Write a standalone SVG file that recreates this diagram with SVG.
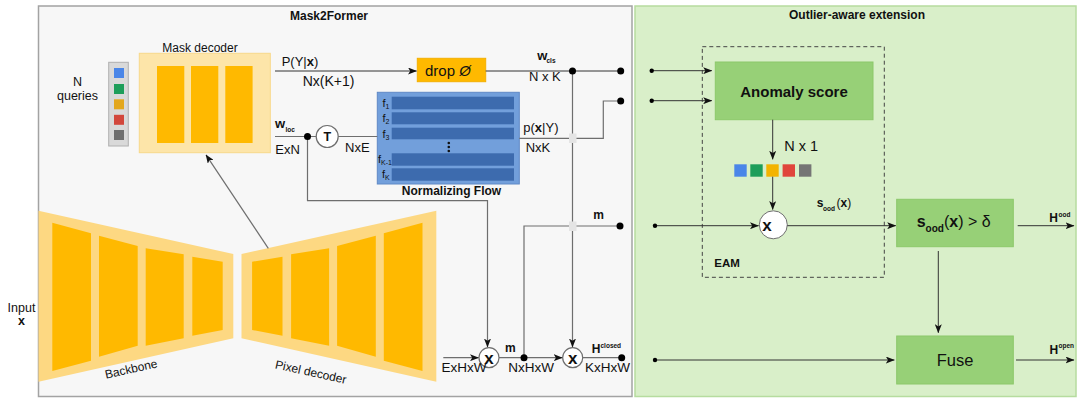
<svg xmlns="http://www.w3.org/2000/svg" width="1078" height="399" viewBox="0 0 1078 399">
<defs>
<marker id="arr" markerWidth="9" markerHeight="7" refX="8.5" refY="3.5" orient="auto" markerUnits="userSpaceOnUse">
<path d="M0,0 L9,3.5 L0,7 L2.2,3.5 z" fill="#111"/>
</marker>
<style>
text{font-family:"Liberation Sans",Arial,sans-serif;fill:#111}
.b{font-weight:bold}
.t13{font-size:13px}
.ln{fill:none;stroke:#6e6e6e;stroke-width:1.2}
.lnd{fill:none;stroke:#333;stroke-width:1}
.dot{fill:#000}
.bar{fill:#ffb900}
.outer{fill:#fdd882}
.nfbar{fill:#3d6bae}
.gbox{fill:#97d077;stroke:#8cc86a;stroke-width:1}
.sub{font-size:6.5px;font-weight:bold}
.mul{font-weight:bold;font-size:17px}
</style>
</defs>

<g id="panel-mask2former">
<rect x="38.5" y="6" width="593.5" height="390.5" fill="#f7f7f7" stroke="#a3a3a3" stroke-width="1.5"/>
<text x="290" y="20" class="b" font-size="12">Mask2Former</text>
</g>
<g id="panel-outlier">
<rect x="635" y="6" width="441" height="390.5" fill="#d9efc9" stroke="#b6dc9f" stroke-width="1.5"/>
<text x="857" y="19" class="b" font-size="12" text-anchor="middle">Outlier-aware extension</text>
</g>

<g id="input">
<text x="21.5" y="312" font-size="12.5" text-anchor="middle">Input</text>
<text x="21.5" y="325" font-size="12.5" class="b" text-anchor="middle">x</text>
</g>

<g id="queries">
<text x="77.5" y="86" font-size="12.5" text-anchor="middle">N</text>
<text x="77.5" y="100" font-size="12.5" text-anchor="middle">queries</text>
<rect x="108.7" y="62.3" width="19.6" height="83.7" fill="#d9d9d9" stroke="#b0b0b0" stroke-width="1"/>
<rect x="114" y="68" width="10" height="10" fill="#4a86e8"/>
<rect x="114" y="84" width="10" height="10" fill="#1e9e5a"/>
<rect x="114" y="99.3" width="10" height="10" fill="#e3a71c"/>
<rect x="114" y="114.8" width="10" height="10" fill="#d2473c"/>
<rect x="114" y="130" width="10" height="10" fill="#6f6f6f"/>
</g>

<g id="mask-decoder">
<text x="200" y="52" font-size="12" text-anchor="middle">Mask decoder</text>
<rect x="139.3" y="53.3" width="131" height="99.4" fill="#fde5a9" stroke="#f8d98a" stroke-width="1"/>
<rect class="bar" x="157" y="66" width="27.3" height="77"/>
<rect class="bar" x="191" y="66" width="27.3" height="77"/>
<rect class="bar" x="225.3" y="66" width="27.3" height="77"/>
</g>

<g id="backbone">
<polygon class="outer" points="38.5,210.7 233.3,254 233.3,338.3 38.5,381.7"/>
<polygon class="bar" points="52.3,222.7 91,233.3 91,360.7 52.3,371"/>
<polygon class="bar" points="99,235.7 137.7,246 137.7,345.7 99,356.7"/>
<polygon class="bar" points="145.7,248.3 183.7,254.3 183.7,338.3 145.7,345.7"/>
<polygon class="bar" points="192.3,256.7 222.7,261.7 222.7,330 192.3,335.7"/>
<text font-size="12" text-anchor="middle" transform="translate(132,373) rotate(-12.5)">Backbone</text>
</g>

<g id="pixel-decoder">
<g transform="matrix(-1 0 0 1 474.8 0)">
<polygon class="outer" points="38.5,210.7 233.3,254 233.3,338.3 38.5,381.7"/>
<polygon class="bar" points="52.3,222.7 91,233.3 91,360.7 52.3,371"/>
<polygon class="bar" points="99,235.7 137.7,246 137.7,345.7 99,356.7"/>
<polygon class="bar" points="145.7,248.3 183.7,254.3 183.7,338.3 145.7,345.7"/>
<polygon class="bar" points="192.3,256.7 222.7,261.7 222.7,330 192.3,335.7"/>
</g>
<text font-size="12" text-anchor="middle" transform="translate(310,376) rotate(12.5)">Pixel decoder</text>
</g>

<g id="drop">
<rect x="417.3" y="58.3" width="68.4" height="23.4" fill="#ffb900" stroke="#f4b000" stroke-width="1"/>
<text x="425" y="76" font-size="15">drop <tspan font-style="italic">Ø</tspan></text>
</g>

<g id="normalizing-flow">
<rect x="377.3" y="92.3" width="142" height="91.7" fill="#729fdb" stroke="#5f89c6" stroke-width="1"/>
<rect class="nfbar" x="391.7" y="96.7" width="122.3" height="12.6"/>
<rect class="nfbar" x="391.7" y="112.3" width="122.3" height="12"/>
<rect class="nfbar" x="391.7" y="127.7" width="122.3" height="11.6"/>
<rect class="nfbar" x="391.7" y="153.3" width="122.3" height="12.4"/>
<rect class="nfbar" x="391.7" y="168.3" width="122.3" height="12.4"/>
<text x="382.5" y="107" font-size="11">f<tspan font-size="7" dy="2">1</tspan></text>
<text x="382.5" y="122" font-size="11">f<tspan font-size="7" dy="2">2</tspan></text>
<text x="382.5" y="137.5" font-size="11">f<tspan font-size="7" dy="2">3</tspan></text>
<text x="378" y="163" font-size="11">f<tspan font-size="7" dy="2">K-1</tspan></text>
<text x="382" y="178" font-size="11">f<tspan font-size="7" dy="2">K</tspan></text>
<circle cx="448.8" cy="143" r="1.3" fill="#111"/>
<circle cx="448.8" cy="147" r="1.3" fill="#111"/>
<circle cx="448.8" cy="151" r="1.3" fill="#111"/>
<text x="451.5" y="195" class="b" font-size="12" text-anchor="middle">Normalizing Flow</text>
</g>

<g id="transpose">
<circle cx="327.2" cy="136.5" r="11" fill="#fff" stroke="#6e6e6e" stroke-width="1.2"/>
<text x="327.2" y="141" class="b" font-size="12.5" text-anchor="middle">T</text>
</g>

<g id="mul1">
<circle cx="489" cy="357.7" r="10" fill="#fff" stroke="#6e6e6e" stroke-width="1.2"/>
<text x="489" y="363.5" class="mul" text-anchor="middle">x</text>
</g>
<g id="mul2">
<circle cx="572.7" cy="357.7" r="10" fill="#fff" stroke="#6e6e6e" stroke-width="1.2"/>
<text x="572.7" y="363.5" class="mul" text-anchor="middle">x</text>
</g>

<g id="eam">
<rect x="702.3" y="46.7" width="182" height="230.6" fill="none" stroke="#444" stroke-width="1" stroke-dasharray="4,3"/>
<text x="714.3" y="266.7" class="b" font-size="11.5">EAM</text>
</g>

<g id="anomaly-score">
<rect class="gbox" x="715.3" y="62" width="157.7" height="57.7"/>
<text x="794" y="97" class="b" font-size="15" text-anchor="middle">Anomaly score</text>
</g>

<g id="scores">
<rect x="734.3" y="164.3" width="12.4" height="12.4" fill="#4a86e8"/>
<rect x="750.3" y="164.3" width="12.4" height="12.4" fill="#1e9e5a"/>
<rect x="766.3" y="164.3" width="12.4" height="12.4" fill="#f3b400"/>
<rect x="782.6" y="164.3" width="12.4" height="12.4" fill="#e0453b"/>
<rect x="799" y="164.3" width="12.4" height="12.4" fill="#757575"/>
</g>

<g id="mul3">
<circle cx="773.3" cy="224.8" r="14" fill="#fff" stroke="#6e6e6e" stroke-width="1"/>
<text x="767" y="230.5" class="mul" text-anchor="middle">x</text>
</g>

<g id="threshold">
<rect class="gbox" x="896.7" y="199.3" width="116.6" height="47.4"/>
<text x="916.7" y="226.5" font-size="16"><tspan class="b">s</tspan><tspan font-size="10" class="b" dy="5">ood</tspan><tspan dy="-5">(</tspan><tspan class="b">x</tspan>) &gt; δ</text>
</g>

<g id="fuse">
<rect class="gbox" x="896.7" y="336" width="116.6" height="48"/>
<text x="955" y="366" font-size="16.5" text-anchor="middle">Fuse</text>
</g>

<g id="connectors">
<path d="M268.3,248.3 L206,154.8" class="ln" marker-end="url(#arr)"/>
<path d="M275,71 H416.5" class="lnd" marker-end="url(#arr)"/>
<path d="M485.7,71 H620.7" class="lnd"/>
<path d="M275,136.5 H316.2" class="ln"/>
<path d="M338.2,136.5 H377.3" class="ln"/>
<path d="M307.5,136.5 V200.7 H487.5 V347" class="ln" marker-end="url(#arr)"/>
<path d="M519.3,138.3 H603.3 V101 H620.7" class="ln"/>
<path d="M572.5,71 V347" class="ln" marker-end="url(#arr)"/>
<rect x="569" y="133.5" width="7.5" height="9.5" fill="#e4e4e4"/>
<path d="M443.3,357.7 H478.5" class="ln" marker-end="url(#arr)"/>
<path d="M499,357.7 H562.2" class="ln" marker-end="url(#arr)"/>
<path d="M524,357.7 V226 H620" class="ln"/>
<rect x="569" y="221.5" width="7.5" height="9.5" fill="#e4e4e4"/>
<path d="M582.7,357.7 H621.7" class="ln"/>
<circle class="dot" cx="307.5" cy="136.5" r="3.5"/>
<circle class="dot" cx="572.5" cy="71" r="3.5"/>
<circle class="dot" cx="620.7" cy="71" r="3.5"/>
<circle class="dot" cx="620.7" cy="101" r="3.5"/>
<circle class="dot" cx="620" cy="226" r="3.5"/>
<circle class="dot" cx="524" cy="357.7" r="3.5"/>
<circle class="dot" cx="621.7" cy="357.7" r="3.5"/>

<path d="M651.7,70.7 H711.7" class="lnd" marker-end="url(#arr)"/>
<path d="M651.7,100.7 H711.7" class="lnd" marker-end="url(#arr)"/>
<path d="M772.7,119.7 V159.3" class="lnd" marker-end="url(#arr)"/>
<path d="M772.7,176.7 V209.5" class="lnd" marker-end="url(#arr)"/>
<path d="M655,225.7 H758.5" class="lnd" marker-end="url(#arr)"/>
<path d="M787.3,225.7 H895.7" class="lnd" marker-end="url(#arr)"/>
<path d="M1017.7,225.7 H1074" class="lnd" marker-end="url(#arr)"/>
<path d="M938.3,251 V332.7" class="lnd" marker-end="url(#arr)"/>
<path d="M655,360 H894.3" class="lnd" marker-end="url(#arr)"/>
<path d="M1016,360 H1074" class="lnd" marker-end="url(#arr)"/>
<circle class="dot" cx="651.7" cy="70.7" r="2.2"/>
<circle class="dot" cx="651.7" cy="100.7" r="2.2"/>
<circle class="dot" cx="655" cy="225.7" r="2.2"/>
<circle class="dot" cx="655" cy="360" r="2.2"/>
</g>

<g id="labels">
<text x="281.7" y="66" class="t13">P(Y|<tspan class="b">x</tspan>)</text>
<text x="302.7" y="86" font-size="14">Nx(K+1)</text>
<text x="275" y="128" class="b" font-size="13">w</text>
<text x="285.5" y="131.5" class="sub">loc</text>
<text x="275.3" y="154" class="t13">ExN</text>
<text x="345" y="151.5" class="t13">NxE</text>
<text x="537.3" y="60" class="b" font-size="13">w</text>
<text x="546.5" y="63.3" class="sub">cls</text>
<text x="529" y="80.7" class="t13">N x K</text>
<text x="523.3" y="131.7" class="t13">p(<tspan class="b">x</tspan>|Y)</text>
<text x="525.7" y="151.7" class="t13">NxK</text>
<text x="593.3" y="219.3" class="b" font-size="12">m</text>
<text x="505" y="351.7" class="b" font-size="12">m</text>
<text x="441.5" y="372" font-size="13.5">ExHxW</text>
<text x="508.3" y="372" font-size="13.5">NxHxW</text>
<text x="585" y="372" font-size="13.5">KxHxW</text>
<text x="591.7" y="353.3" class="b" font-size="12">H</text>
<text x="600.5" y="347.5" class="sub">closed</text>
<text x="784.3" y="150.7" font-size="14.5">N x 1</text>
<text x="816.7" y="206.7" class="b" font-size="12">s</text>
<text x="823" y="210.7" class="sub">ood</text>
<text x="836.5" y="206.7" font-size="12">(<tspan class="b">x</tspan>)</text>
<text x="1049.3" y="222.3" class="b" font-size="12">H</text>
<text x="1058.5" y="216.7" class="sub">ood</text>
<text x="1049.5" y="353.5" class="b" font-size="12">H</text>
<text x="1058.5" y="348" class="sub">open</text>
</g>
</svg>
